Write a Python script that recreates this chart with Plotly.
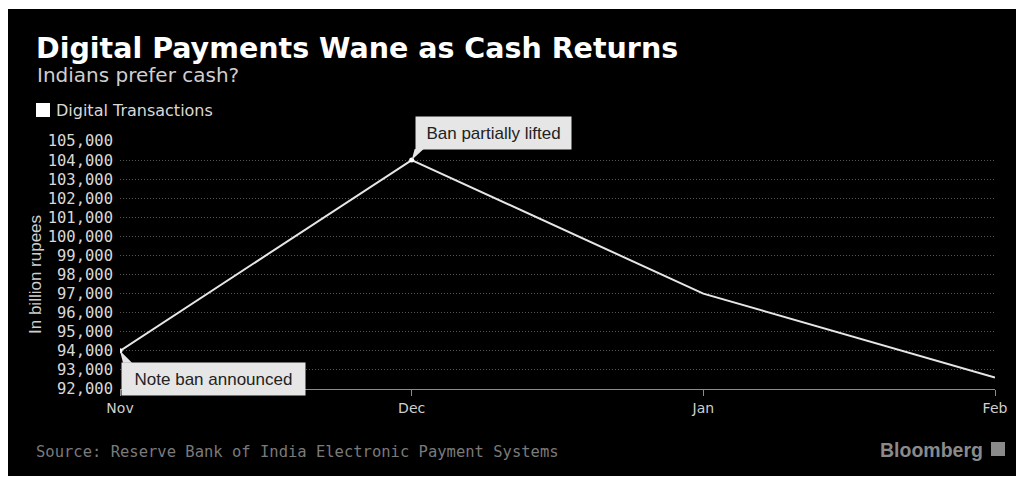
import plotly.graph_objects as go

# Monthly value of digital transactions (billion rupees)
months = ["Nov", "Dec", "Jan", "Feb"]
values = [94000, 104000, 97000, 92600]
y_ticks = list(range(92000, 105001, 1000))
notes = {"Nov": "Note ban announced", "Dec": "Ban partially lifted"}

W, H = 1019, 478
L, R, T, B = 120, 24, 141, 89
pw, ph = W - L - R, H - T - B


def px(x):
    return (x - L) / pw


def py(y):
    return (H - B - y) / ph


fig = go.Figure()
fig.add_trace(go.Scatter(
    x=months, y=values, mode="lines",
    line=dict(color="#e6e6e6", width=2),
    showlegend=False, hoverinfo="skip",
))
note_x = [m for m in months if m in notes]
note_y = [values[months.index(m)] for m in note_x]
fig.add_trace(go.Scatter(
    x=note_x, y=note_y, mode="markers",
    marker=dict(color="#ffffff", size=5),
    showlegend=False, hoverinfo="skip",
))

shapes = [
    # dark card behind the whole chart
    dict(type="rect", xref="paper", yref="paper", layer="below",
         x0=px(8), x1=px(1016), y0=py(476), y1=py(9),
         fillcolor="#000000", line=dict(width=0)),
    # legend swatch
    dict(type="rect", xref="paper", yref="paper",
         x0=px(36), x1=px(50), y0=py(117), y1=py(103),
         fillcolor="#ffffff", line=dict(width=0)),
    # Bloomberg badge
    dict(type="rect", xref="paper", yref="paper",
         x0=px(991), x1=px(1005), y0=py(456), y1=py(442),
         fillcolor="#8a8a8a", line=dict(width=0)),
]

annotations = [
    dict(text="<b>Digital Payments Wane as Cash Returns</b>", xref="paper", yref="paper",
         x=px(34), y=py(48), xanchor="left", yanchor="middle", showarrow=False,
         font=dict(family="DejaVu Sans", size=28.5, color="#ffffff")),
    dict(text="Indians prefer cash?", xref="paper", yref="paper",
         x=px(35), y=py(75), xanchor="left", yanchor="middle", showarrow=False,
         font=dict(family="DejaVu Sans", size=20, color="#cfcfcf")),
    dict(text="Digital Transactions", xref="paper", yref="paper",
         x=px(54), y=py(110), xanchor="left", yanchor="middle", showarrow=False,
         font=dict(family="DejaVu Sans", size=16, color="#d9d9d9")),
    dict(text="In billion rupees", xref="paper", yref="paper", textangle=-90,
         x=px(35), y=py(275), xanchor="center", yanchor="middle", showarrow=False,
         font=dict(family="Liberation Sans", size=17, color="#cfcfcf")),
    dict(text="Source: Reserve Bank of India Electronic Payment Systems", xref="paper", yref="paper",
         x=px(34), y=py(452), xanchor="left", yanchor="middle", showarrow=False,
         font=dict(family="DejaVu Sans Mono", size=15.5, color="#7a7a7a")),
    dict(text="<b>Bloomberg</b>", xref="paper", yref="paper",
         x=px(985), y=py(450), xanchor="right", yanchor="middle", showarrow=False,
         font=dict(family="Liberation Sans", size=19.5, color="#8a8a8a")),
]

# callout boxes beside the annotated points
box_size = {"Nov": (183, 32), "Dec": (155, 32)}
for m in note_x:
    v = values[months.index(m)]
    below = m == "Nov"
    bw, bh = box_size[m]
    annotations.append(dict(
        text=notes[m], x=m, y=v, xref="x", yref="y",
        xanchor="left", yanchor="top" if below else "bottom",
        xshift=1 if below else 3, yshift=-11 if below else 10,
        showarrow=False, bgcolor="#e6e6e6", borderpad=0,
        width=bw, height=bh, align="center", valign="middle",
        font=dict(family="Liberation Sans", size=17, color="#222222"),
    ))
    tail = "M0,0 L3,-12 L12,-12 Z" if below else "M0,0 L3,11 L12,11 Z"
    shapes.append(dict(type="path", xref="x", yref="y",
                       xsizemode="pixel", ysizemode="pixel",
                       xanchor=m, yanchor=v, path=tail,
                       fillcolor="#e6e6e6", line=dict(width=0)))

fig.update_layout(
    width=W, height=H, margin=dict(l=L, r=R, t=T, b=B),
    paper_bgcolor="#ffffff", plot_bgcolor="#000000",
    shapes=shapes, annotations=annotations, showlegend=False,
    xaxis=dict(
        type="category", categoryorder="array", categoryarray=months,
        range=[0, len(months) - 1], showgrid=False, zeroline=False,
        showline=True, linecolor="#8c8c8c", linewidth=1,
        ticks="outside", ticklen=6, tickcolor="#8c8c8c",
        tickfont=dict(family="DejaVu Sans", size=14, color="#cfcfcf"),
    ),
    yaxis=dict(
        range=[y_ticks[0], y_ticks[-1]], tickvals=y_ticks,
        ticktext=[f"{v:,}" for v in y_ticks],
        showgrid=True, gridcolor="#555555", griddash="1px,2px", gridwidth=1,
        zeroline=False, showline=False, ticks="", ticklabelstandoff=6,
        tickfont=dict(family="DejaVu Sans Mono", size=15.5, color="#d9d9d9"),
    ),
)

fig.write_html("out.html")
